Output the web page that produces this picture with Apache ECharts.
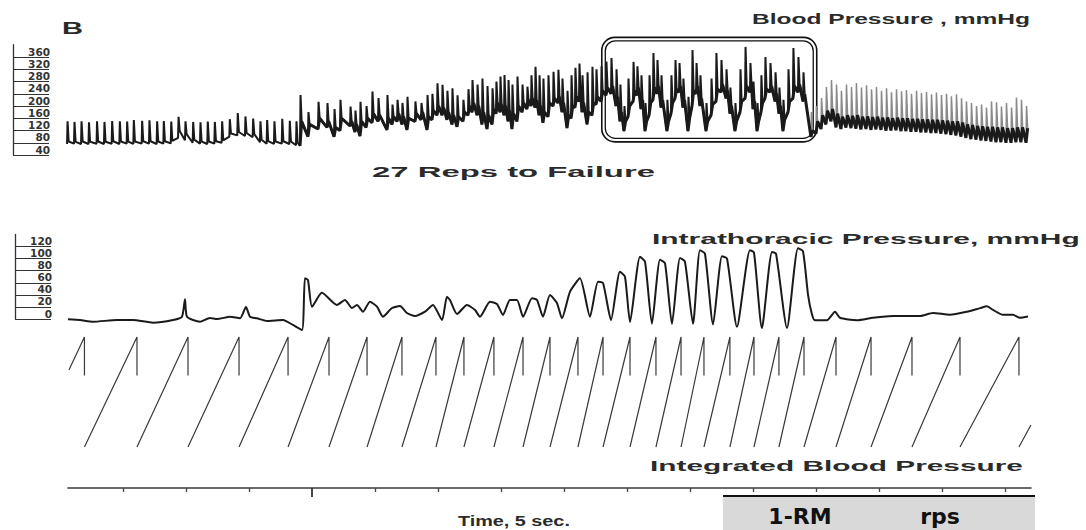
<!DOCTYPE html>
<html>
<head>
<meta charset="utf-8">
<script src="https://cdn.jsdelivr.net/npm/echarts@6/dist/echarts.min.js"></script>
<style>
  html, body { margin: 0; padding: 0; background: #fff; }
  #chart { width: 1086px; height: 530px; }
</style>
</head>
<body>
<div id="chart"></div>
<script>
// ---------------------------------------------------------------
// Recording: blood pressure, intrathoracic pressure and integrated
// blood pressure during a set of leg presses taken to failure.
// Time in seconds, pressures in mmHg.
// ---------------------------------------------------------------

const timeTicks = [5, 10, 15, 25, 30, 35, 40, 45, 50, 55, 60, 65, 70, 75];
const timeMajorTick = [20];
const bpTickLabels = [40, 80, 120, 160, 200, 240, 280, 320, 360];
const itpTickLabels = [0, 20, 40, 60, 80, 100, 120];

// one row per heartbeat: [time, systolic, notch, diastolic (foot)]
const bpRest = [
  [0.56,150,84,76],[1.11,148,83,77],[1.67,150,84,76],[2.26,147,83,76],
  [2.90,150,84,77],[3.49,148,83,76],[4.10,151,85,77],[4.71,150,84,76],
  [5.29,149,84,77],[5.82,154,84,76],[6.48,152,85,77],[7.06,153,85,77],
  [7.67,150,84,76],[8.20,151,85,77],[8.79,149,86,78],[9.37,165,118,96],
  [9.92,150,108,88],[10.53,148,90,80],[11.11,147,84,77],[11.69,149,84,76],
  [12.25,148,85,77],[12.83,150,88,80],[13.44,157,110,100],[14.07,177,115,104],
  [14.68,166,112,102],[15.29,159,108,98],[15.87,150,90,82],[16.40,154,85,77],
  [16.98,150,84,76],[17.60,158,85,77],[18.20,152,84,76],[18.73,150,80,72]
];

const bpLift = [
  [19.05,236,150,70],[19.68,180,140,100],[20.48,214,160,125],[21.19,210,150,130],
  [21.75,190,130,100],[22.22,220,160,120],[23.02,198,150,135],[23.41,185,140,115],
  [23.81,214,150,102],[24.29,200,160,130],[24.76,247,175,145],[25.24,226,170,150],
  [25.95,236,160,122],[26.35,205,165,140],[26.75,220,175,150],[27.14,210,165,140],
  [27.54,230,160,122],[28.17,215,175,150],[28.65,210,180,155],[29.13,236,165,122],
  [29.52,240,185,155],[29.92,274,200,170],[30.32,269,195,170],[30.71,250,180,155],
  [31.11,258,170,140],[31.51,235,165,132],[31.98,220,180,150],[32.38,255,200,170],
  [32.70,285,210,180],[33.10,270,200,170],[33.49,290,180,140],[33.89,265,170,125],
  [34.29,258,190,140],[34.60,280,210,175],[34.92,296,205,180],[35.24,301,200,170],
  [35.56,285,185,150],[35.87,270,175,125],[36.27,296,200,150],[36.67,270,210,180],
  [37.06,263,220,190],[37.38,300,225,200],[37.70,328,220,195],[38.02,300,200,170],
  [38.33,290,180,145],[38.73,300,210,165],[39.13,312,225,200],[39.52,318,230,210],
  [39.84,290,210,180],[40.24,250,170,128],[40.56,300,200,160],[40.87,325,230,195],
  [41.19,339,240,215],[41.43,300,210,180],[41.83,310,180,140],[42.22,328,210,170],
  [42.54,320,230,205]
];

const bpOneRm = [
  [42.94,330,250,215],[43.33,345,260,235],[43.73,357,265,240],[44.13,320,230,200],
  [44.44,270,180,150],[44.76,200,150,118],[45.08,290,200,165],[45.48,344,250,215],
  [45.79,330,260,235],[46.11,300,220,190],[46.43,210,150,118],[46.75,300,210,170],
  [47.06,373,260,220],[47.38,350,265,240],[47.70,300,220,195],[48.17,220,150,118],
  [48.49,300,210,175],[48.81,350,255,225],[49.13,340,265,245],[49.44,290,220,195],
  [49.84,230,160,118],[50.16,383,250,200],[50.48,340,265,240],[50.79,300,225,200],
  [51.27,210,150,118],[51.67,290,205,170],[52.06,373,255,215],[52.46,350,270,245],
  [52.86,320,250,225],[53.17,260,200,175],[53.57,210,150,118],[53.97,320,215,180],
  [54.37,393,265,225],[54.76,340,265,245],[55.00,280,215,190],[55.32,210,150,118],
  [55.63,300,210,180],[55.95,360,255,225],[56.35,340,265,245],[56.75,310,240,215],
  [57.06,260,200,175],[57.38,220,155,118],[57.78,320,215,180],[58.17,389,265,225],
  [58.57,360,270,245],[58.97,310,240,215]
];

const bpRecovery = [
  [59.60,180,120,99],[60.00,200,150,110],[60.40,226,170,125],[60.79,262,185,140],
  [61.19,285,190,150],[61.59,270,175,130],[61.98,250,165,125],[62.38,270,170,130],
  [62.78,262,168,128],[63.17,275,170,126],[63.57,260,165,124],[63.97,268,166,125],
  [64.37,255,164,122],[64.76,262,165,124],[65.16,250,162,122],[65.56,258,163,120],
  [65.95,245,160,120],[66.35,255,162,121],[66.75,248,160,118],[67.14,252,160,118],
  [67.54,240,158,116],[67.94,250,158,116],[68.33,242,156,114],[68.73,246,156,114],
  [69.13,238,155,112],[69.52,244,155,112],[69.92,236,153,110],[70.32,240,152,108],
  [70.71,232,150,106],[71.11,238,150,104],[71.51,225,146,100],[71.90,215,140,96],
  [72.30,210,138,92],[72.70,200,135,90],[73.10,205,134,88],[73.49,195,132,86],
  [73.89,215,132,84],[74.29,212,130,82],[74.68,198,130,82],[75.08,210,128,80],
  [75.48,195,128,80],[75.87,228,130,82],[76.27,220,130,82],[76.67,200,128,80]
];

// intrathoracic pressure trace: [time, mmHg]
const itpTrace = [
  [0.63,-0.5],[1.59,-1.7],[2.62,-4.5],[4.52,-1.7],[5.79,-1.7],[7.38,-6.1],[8.97,-1.7],
  [9.68,3.8],[9.92,32.6],[10.08,3.8],[11.11,-4.5],[11.90,1.7],[12.46,0],[13.49,3.8],
  [14.29,1.2],[14.76,19.9],[15.08,3.8],[15.63,1.2],[16.43,-3.3],[17.70,-1.7],[18.49,-9.9],
  [19.21,-18.2],[19.44,67.4],[19.68,64.6],[20.00,20.4],[20.79,43.5],[21.98,23.2],[22.62,31.5],
  [23.17,18.2],[23.57,23.2],[24.05,12.1],[24.60,28.6],[25.16,20.4],[25.63,3.8],[26.35,18.2],
  [26.98,21.5],[27.54,9.9],[28.17,5.0],[28.97,12.1],[29.60,23.2],[30.32,-1.7],[30.71,36.9],
  [30.95,31.5],[31.51,8.3],[32.30,23.2],[32.94,14.9],[33.33,3.8],[34.13,28.6],[34.68,24.8],
  [35.16,6.6],[35.71,31.5],[36.27,31.5],[36.75,3.8],[37.46,34.3],[37.86,31.5],[38.33,3.8],
  [38.89,39.7],[39.44,26.5],[39.84,1.2],[40.48,45.2],[41.27,67.4],[42.06,3.8],[42.70,61.8],
  [43.10,59.6],[43.73,-1.7],[44.44,78.3],[44.84,70],[45.24,-5],[46.03,103],[46.43,95],
  [46.98,-8],[47.62,98],[48.02,92],[48.57,-8],[49.21,101],[49.60,95],[50.24,-8],[50.79,114],
  [51.19,108],[51.83,-9],[52.54,104],[52.94,100],[53.73,-13],[54.76,114],[55.08,110],
  [55.71,-15],[56.51,111],[56.83,108],[57.70,-15],[58.57,117],[58.97,112],[59.37,40],
  [59.68,8],[59.92,-2],[60.87,-2],[61.51,12],[61.90,2],[63.25,-2],[64.52,2],[66.11,5],
  [67.22,5],[68.25,5],[69.29,10],[70.63,7],[71.98,12],[73.02,18],[73.57,21],[74.05,15],
  [74.84,7],[75.63,7],[76.19,2],[76.83,4]
];

// integrator: times at which it reaches full scale and resets (s)
const integratorResets = [
  1.94, 6.11, 10.16, 14.21, 18.10, 21.35, 24.37, 27.14, 29.84, 32.06, 34.44, 36.75,
  38.89, 41.11, 43.10, 45.24, 47.30, 49.29, 51.11, 53.17, 55.08, 57.06, 59.05, 61.59,
  64.37, 67.62, 71.43, 76.11
];
const integratorStart = [0.71, 70];   // [time, % of full scale]
const integratorEnd = [77.06, 20];
const integratorResetTrace = 65;      // % level where the reset stroke fades

// one-repetition-maximum window [time range, pressure range]
const oneRmWindow = { start: 43.0, end: 60.06, low: 83, high: 424 };

// ---------------------------------------------------------------
// build polylines
function beatsToLine(rows) {
  const pts = [];
  rows.forEach(function (r) {
    pts.push([r[0], r[3]]);
    pts.push([r[0] + 0.04, r[1]]);
    pts.push([r[0] + 0.13, r[2]]);
  });
  return pts;
}
// diastolic band only (foot -> notch -> next foot), drawn darker
function beatsToBand(rows) {
  const pts = [];
  rows.forEach(function (r) {
    pts.push([r[0], r[3]]);
    pts.push([r[0] + 0.13, r[2]]);
  });
  return pts;
}
const bpMainRows = bpRest.concat(bpLift, bpOneRm);
const bpMainLine = beatsToLine(bpMainRows);
const bpMainBand = beatsToBand(bpLift.concat(bpOneRm));
const lastMain = bpMainLine[bpMainLine.length - 1];
const bpRecoveryLine = [lastMain].concat(beatsToLine(bpRecovery));
const bpRecoveryBand = [lastMain].concat(beatsToBand(bpRecovery));

const integratorLine = [integratorStart];
integratorResets.forEach(function (t, i) {
  if (i > 0) integratorLine.push([integratorResets[i - 1], 0]);
  integratorLine.push([t, 100]);
  integratorLine.push([t, integratorResetTrace]);
  integratorLine.push([t, '-']);
});
integratorLine.push([integratorResets[integratorResets.length - 1], 0]);
integratorLine.push(integratorEnd);

// ---------------------------------------------------------------
const ink = '#1a1a1a';
const labelStyle = { fontFamily: 'DejaVu Sans', fontWeight: 'bold', fontSize: 10.5, color: '#333' };
const T_MAX = 77.78;

const BP_GRID = { top: 44.75, height: 110.25 };
const ITP_GRID = { top: 234.44, height: 84.56 };

function hiddenX(i) {
  return { gridIndex: i, type: 'value', min: 0, max: T_MAX, show: false };
}
function scaleAxis(gridIndex, min, max, ticks) {
  return {
    gridIndex: gridIndex, type: 'value', min: min, max: max, position: 'left',
    axisLine: { show: true, lineStyle: { color: '#333', width: 1.3 } },
    axisTick: { show: true, inside: true, length: 36, customValues: ticks, lineStyle: { color: '#333', width: 1.1 } },
    axisLabel: Object.assign({ show: true, inside: true, customValues: ticks, align: 'right', margin: 37, verticalAlign: 'bottom' }, labelStyle),
    splitLine: { show: false }
  };
}

const option = {
  animation: false,
  backgroundColor: '#fff',
  grid: [
    { left: 60, width: 980, top: BP_GRID.top, height: BP_GRID.height },
    { left: 60, width: 980, top: ITP_GRID.top, height: ITP_GRID.height },
    { left: 60, width: 980, top: 337, height: 110 },
    { left: 68, width: 963, top: 487, height: 1 },
    { left: 13, width: 40, top: BP_GRID.top, height: BP_GRID.height },
    { left: 15, width: 40, top: ITP_GRID.top, height: ITP_GRID.height }
  ],
  xAxis: [
    hiddenX(0), hiddenX(1), hiddenX(2),
    {
      gridIndex: 3, type: 'value', min: 0.63, max: 77.06, position: 'bottom',
      axisLine: { show: true, lineStyle: { color: '#3a3a3a', width: 1.6 } },
      axisTick: { show: true, customValues: timeTicks, length: 4, lineStyle: { color: '#444', width: 1.3 } },
      axisLabel: { show: false }, splitLine: { show: false }
    },
    {
      gridIndex: 3, type: 'value', min: 0.63, max: 77.06, position: 'bottom', offset: 0,
      axisLine: { show: false },
      axisTick: { show: true, customValues: timeMajorTick, length: 9, lineStyle: { color: '#333', width: 1.8 } },
      axisLabel: { show: false }, splitLine: { show: false }
    },
    { gridIndex: 4, type: 'value', min: 0, max: 1, show: false },
    { gridIndex: 5, type: 'value', min: 0, max: 1, show: false }
  ],
  yAxis: [
    { gridIndex: 0, type: 'value', min: 40, max: 400, show: false },
    { gridIndex: 1, type: 'value', min: 0, max: 140, show: false },
    { gridIndex: 2, type: 'value', min: 0, max: 100, show: false },
    { gridIndex: 3, type: 'value', min: 0, max: 1, show: false },
    scaleAxis(4, 40, 400, bpTickLabels),
    scaleAxis(5, 0, 140, itpTickLabels)
  ],
  series: [
    {
      name: 'Blood Pressure', type: 'line', xAxisIndex: 0, yAxisIndex: 0,
      data: bpMainLine, showSymbol: false, clip: false,
      lineStyle: { color: ink, width: 2 }
    },
    {
      name: 'Blood Pressure (diastolic band)', type: 'line', xAxisIndex: 0, yAxisIndex: 0,
      data: bpMainBand, showSymbol: false, clip: false,
      lineStyle: { color: ink, width: 3 }
    },
    {
      name: 'Blood Pressure (recovery)', type: 'line', xAxisIndex: 0, yAxisIndex: 0,
      data: bpRecoveryLine, showSymbol: false, clip: false,
      lineStyle: { color: '#8a8a8a', width: 1.5 }
    },
    {
      name: 'Blood Pressure (recovery, diastolic band)', type: 'line', xAxisIndex: 0, yAxisIndex: 0,
      data: bpRecoveryBand, showSymbol: false, clip: false,
      lineStyle: { color: ink, width: 3 }
    },
    {
      name: 'Intrathoracic Pressure', type: 'line', xAxisIndex: 1, yAxisIndex: 1,
      data: itpTrace, showSymbol: false, clip: false, smooth: 0.2,
      lineStyle: { color: ink, width: 2 }
    },
    {
      name: 'Integrated Blood Pressure', type: 'line', xAxisIndex: 2, yAxisIndex: 2,
      data: integratorLine, showSymbol: false, clip: false, connectNulls: false,
      lineStyle: { color: '#3a3a3a', width: 1.2 }
    }
  ]
};

const chart = echarts.init(document.getElementById('chart'), null, { renderer: 'svg', width: 1086, height: 530 });
chart.setOption(option);

// ---------------------------------------------------------------
// captions: the lettering of this recording is set wide, so each caption
// is stretched horizontally to its measured span
const measureCtx = document.createElement('canvas').getContext('2d');
function caption(text, font, left, cy, span, fill) {
  measureCtx.font = font;
  const w = measureCtx.measureText(text).width;
  return {
    type: 'text', x: left, y: cy, scaleX: span / w, silent: true,
    style: { text: text, font: font, fill: fill || '#2b2b2b', align: 'left', verticalAlign: 'middle' }
  };
}

const capFont = 'bold 14px "Liberation Sans"';
const p0 = chart.convertToPixel({ xAxisIndex: 0, yAxisIndex: 0 }, [oneRmWindow.start, oneRmWindow.high]);
const p1 = chart.convertToPixel({ xAxisIndex: 0, yAxisIndex: 0 }, [oneRmWindow.end, oneRmWindow.low]);

chart.setOption({
  graphic: [
    caption('B', 'bold 17px "Liberation Sans"', 62, 28, 21, '#2a2a2a'),
    caption('Blood Pressure , mmHg', capFont, 752, 19, 278),
    caption('27 Reps to Failure', capFont, 372, 172, 283),
    caption('Intrathoracic Pressure, mmHg', capFont, 652, 239, 428),
    caption('Integrated Blood Pressure', capFont, 650, 466, 373),
    caption('Time, 5 sec.', capFont, 458, 521, 112),
    {
      type: 'rect', silent: true,
      shape: { x: p0[0], y: p0[1], width: p1[0] - p0[0], height: p1[1] - p0[1], r: 13 },
      style: { fill: 'none', stroke: '#111', lineWidth: 1.6 }
    },
    {
      type: 'rect', silent: true,
      shape: { x: p0[0] + 3.5, y: p0[1] + 3.5, width: p1[0] - p0[0] - 7, height: p1[1] - p0[1] - 7, r: 10 },
      style: { fill: 'none', stroke: '#111', lineWidth: 1.3 }
    },
    {
      type: 'rect', silent: true,
      shape: { x: 723, y: 496, width: 312, height: 34 },
      style: { fill: '#d9d9d9' }
    },
    {
      type: 'line', silent: true,
      shape: { x1: 723, y1: 496, x2: 1035, y2: 496 },
      style: { stroke: '#111', lineWidth: 2 }
    },
    {
      type: 'text', x: 800, y: 516, silent: true,
      style: { text: '1-RM', font: 'bold 22px "DejaVu Sans"', fill: '#111', align: 'center', verticalAlign: 'middle' }
    },
    {
      type: 'text', x: 940, y: 516, silent: true,
      style: { text: 'rps', font: 'bold 22px "DejaVu Sans"', fill: '#111', align: 'center', verticalAlign: 'middle' }
    }
  ]
});
</script>
</body>
</html>
